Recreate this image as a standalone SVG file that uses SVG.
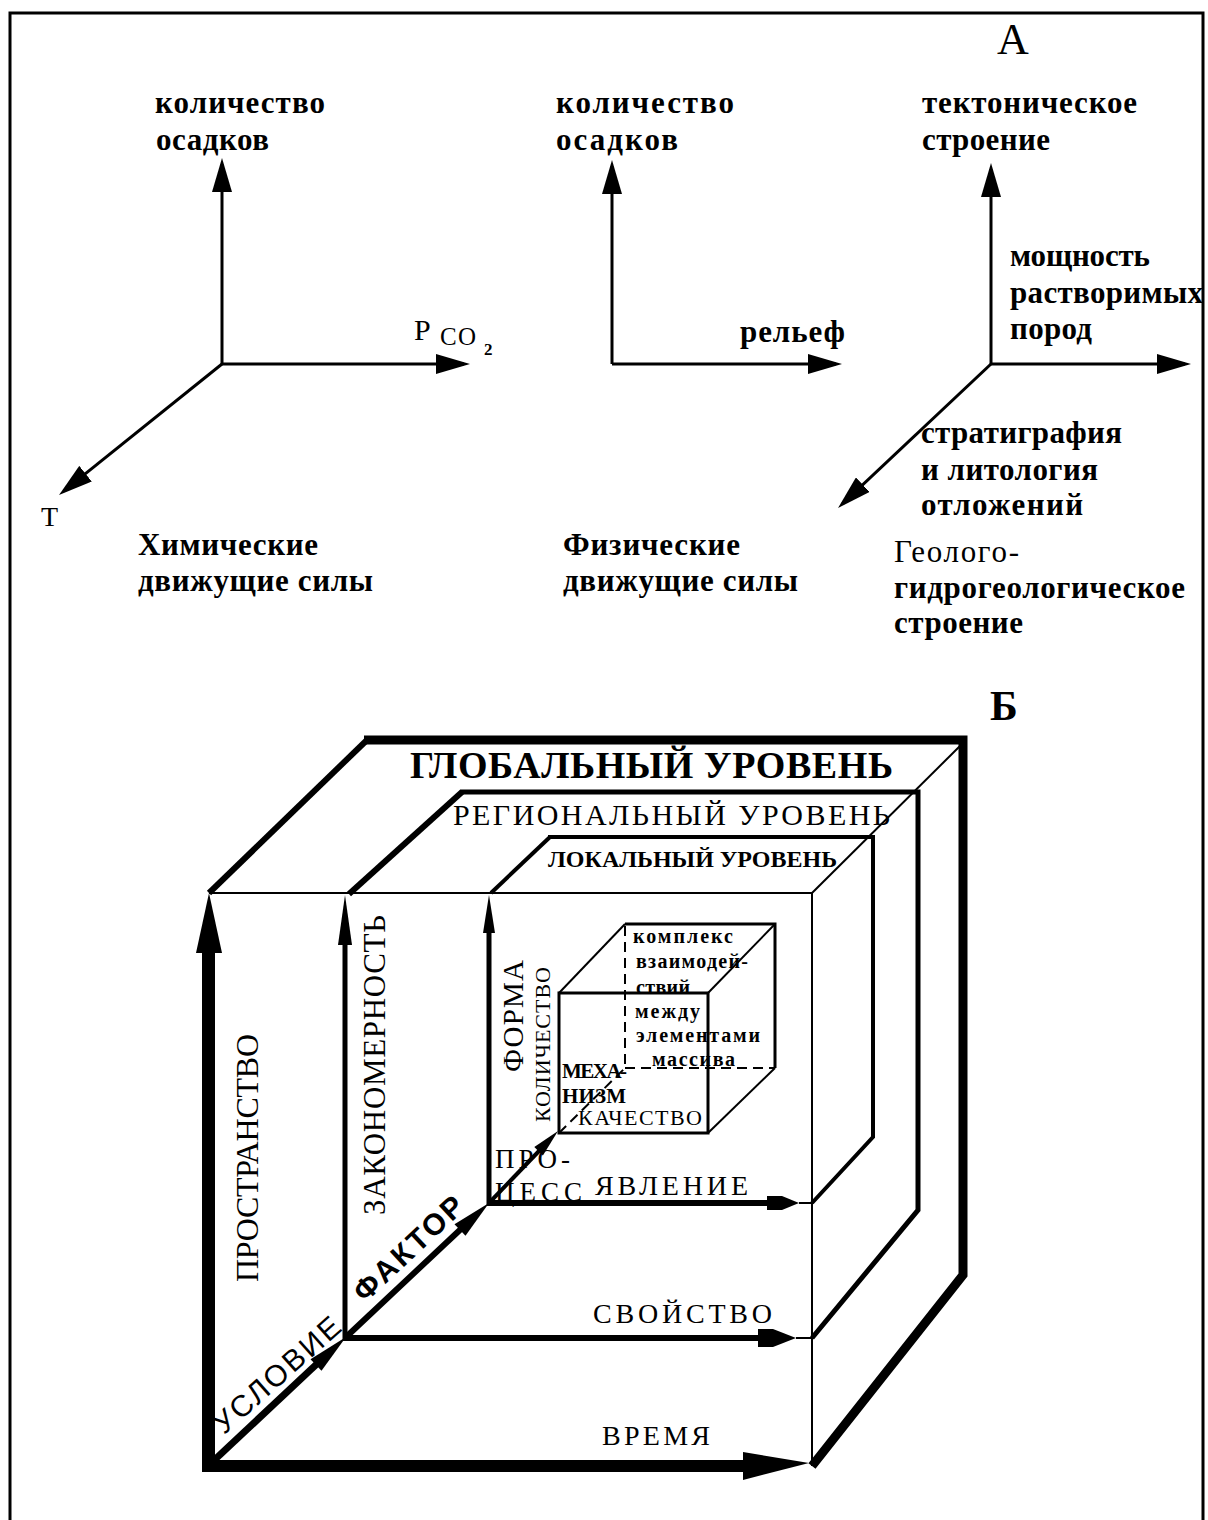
<svg xmlns="http://www.w3.org/2000/svg" width="1208" height="1520" viewBox="0 0 1208 1520">
<defs>
<style>
text{fill:#000}
.sr{font-family:"Liberation Serif","Times New Roman",serif}
.sn{font-family:"Liberation Sans",Arial,sans-serif}
.b{font-weight:bold}
.la{font-family:"Liberation Serif","Times New Roman",serif;font-weight:bold;font-size:31px}
.sm{font-family:"Liberation Serif","Times New Roman",serif;font-weight:bold;font-size:20px}
.ax{stroke:#000;stroke-width:3;fill:none}
.ln{stroke:#000;fill:none}
.th{stroke:#000;stroke-width:2;fill:none}
.ds{stroke:#000;stroke-width:2;fill:none;stroke-dasharray:10 6}
.ah{fill:#000;stroke:none}
</style>
<marker id="arr" viewBox="0 0 34 20" refX="28" refY="10" markerWidth="34" markerHeight="20" markerUnits="userSpaceOnUse" orient="auto"><path d="M0,0 L34,10 L0,20 Z" fill="#000"/></marker>
</defs>
<rect x="0" y="0" width="1208" height="1520" fill="#fff"/>
<path id="frame" d="M10,1520 L10,13 L1203,13 L1203,1520" fill="none" stroke="#000" stroke-width="3"/>

<!-- Panel A labels -->
<g id="title-A"><text class="sr" x="1013" y="54" font-size="44" text-anchor="middle">А</text></g>

<g id="chem-labels">
<text class="la" x="155" y="113" textLength="170">количество</text>
<text class="la" x="156" y="150" textLength="113">осадков</text>
<text class="sr" x="414" y="340" font-size="30">P</text>
<text class="sr" x="440" y="345" font-size="25" textLength="36">CO</text>
<text class="sr b" x="484" y="355" font-size="17">2</text>
<text class="sr" x="41" y="526" font-size="28">T</text>
<text class="la" x="138" y="555" textLength="180">Химические</text>
<text class="la" x="138" y="591" textLength="235">движущие силы</text>
</g>

<g id="phys-labels">
<text class="la" x="556" y="113" textLength="178">количество</text>
<text class="la" x="556" y="150" textLength="122">осадков</text>
<text class="la" x="740" y="342" textLength="105">рельеф</text>
<text class="la" x="563" y="555" textLength="177">Физические</text>
<text class="la" x="563" y="591" textLength="235">движущие силы</text>
</g>

<g id="geo-labels">
<text class="la" x="922" y="113" textLength="215">тектоническое</text>
<text class="la" x="922" y="150" textLength="128">строение</text>
<text class="la" x="1010" y="266" textLength="140">мощность</text>
<text class="la" x="1010" y="303" textLength="193">растворимых</text>
<text class="la" x="1010" y="339" textLength="82">пород</text>
<text class="la" x="921" y="443" textLength="201">стратиграфия</text>
<text class="la" x="921" y="480" textLength="177">и литология</text>
<text class="la" x="921" y="515" textLength="162">отложений</text>
<text class="sr" x="894" y="562" font-size="31" textLength="125">Геолого-</text>
<text class="la" x="894" y="598" textLength="291">гидрогеологическое</text>
<text class="la" x="894" y="633" textLength="129">строение</text>
</g>

<!-- Panel B labels -->
<g id="title-B"><text class="sr b" x="1004" y="720" font-size="42" text-anchor="middle">Б</text></g>

<g id="level-labels">
<text class="sr b" x="410" y="778" font-size="38" textLength="483">ГЛОБАЛЬНЫЙ УРОВЕНЬ</text>
<text class="sr" x="453" y="825" font-size="30" textLength="437">РЕГИОНАЛЬНЫЙ УРОВЕНЬ</text>
<text class="sr b" x="548" y="867" font-size="24" textLength="289">ЛОКАЛЬНЫЙ УРОВЕНЬ</text>
</g>

<g id="axis-labels">
<text class="sr" transform="translate(258,1282) rotate(-90)" font-size="32" textLength="248">ПРОСТРАНСТВО</text>
<text class="sr" transform="translate(385,1215) rotate(-90)" font-size="31" textLength="300">ЗАКОНОМЕРНОСТЬ</text>
<text class="sr" transform="translate(523,1072) rotate(-90)" font-size="29" textLength="112">ФОРМА</text>
<text class="sr" transform="translate(550,1122) rotate(-90)" font-size="22" textLength="155">КОЛИЧЕСТВО</text>
<text class="sn b" transform="translate(408,1248) rotate(-43.2)" x="0" y="11" font-size="30" text-anchor="middle" textLength="139">ФАКТОР</text>
<text class="sn" transform="translate(277,1375) rotate(-41.5)" x="0" y="10" font-size="30" text-anchor="middle" textLength="159">УСЛОВИЕ</text>
<text class="sr" x="495" y="1168" font-size="27" textLength="75">ПРО-</text>
<text class="sr" x="495" y="1201" font-size="27" textLength="87">ЦЕСС</text>
<text class="sr" x="595" y="1195" font-size="28" textLength="153">ЯВЛЕНИЕ</text>
<text class="sr" x="593" y="1323" font-size="28" textLength="179">СВОЙСТВО</text>
<text class="sr" x="602" y="1445" font-size="28" textLength="108">ВРЕМЯ</text>
<text class="sr b" x="562" y="1078" font-size="21" textLength="65">МЕХА-</text>
<text class="sr b" x="562" y="1103" font-size="21" textLength="64">НИЗМ</text>
<text class="sr" x="578" y="1125" font-size="22" textLength="124">КАЧЕСТВО</text>
</g>

<g id="inner-labels">
<text class="sm" x="633" y="943" textLength="100">комплекс</text>
<text class="sm" x="636" y="968" textLength="112">взаимодей-</text>
<text class="sm" x="636" y="994" textLength="54">ствий</text>
<text class="sm" x="635" y="1018" textLength="65">между</text>
<text class="sm" x="636" y="1042" textLength="124">элементами</text>
<text class="sm" x="652" y="1066" textLength="83">массива</text>
</g>

<!-- Cubes -->
<g id="cube-global">
<line class="ln" x1="209" y1="893" x2="367" y2="740" stroke-width="6"/>
<polyline class="ln" points="364,740 963,740 963,1275 812,1466" stroke-width="9"/>
<line class="th" x1="209" y1="893" x2="812" y2="893"/>
<line class="th" x1="812" y1="893" x2="812" y2="1466"/>
<line class="th" x1="962" y1="744" x2="812" y2="893"/>
</g>
<g id="cube-regional">
<line class="ln" x1="349" y1="894" x2="462" y2="792" stroke-width="6"/>
<polyline class="ln" points="460,792 918,792 918,1210 812,1338" stroke-width="5"/>
</g>
<g id="cube-local">
<line class="ln" x1="491" y1="893" x2="550" y2="837" stroke-width="4"/>
<polyline class="ln" points="548,837 873,837 873,1137 812,1203" stroke-width="4"/>
</g>
<g id="cube-inner">
<rect class="ln" x="559" y="993" width="149" height="140" stroke-width="3"/>
<polyline class="ln" points="625,924 775,924 775,1068" stroke-width="3"/>
<line class="th" x1="559" y1="993" x2="625" y2="924"/>
<line class="th" x1="708" y1="993" x2="775" y2="924"/>
<line class="th" x1="708" y1="1133" x2="775" y2="1068"/>
<line class="ds" x1="625" y1="926" x2="625" y2="1068"/>
<line class="ds" x1="625" y1="1068" x2="775" y2="1068"/>
<line class="ds" x1="559" y1="1133" x2="625" y2="1068"/>
</g>

<!-- Connectors -->
<g id="connectors">
<line class="ax" x1="222" y1="364" x2="222" y2="164" marker-end="url(#arr)"/>
<line class="ax" x1="222" y1="364" x2="464" y2="364" marker-end="url(#arr)"/>
<line class="ax" x1="222" y1="364" x2="63.7" y2="491.2" marker-end="url(#arr)"/>
<line class="ax" x1="612" y1="364" x2="612" y2="166" marker-end="url(#arr)"/>
<line class="ax" x1="612" y1="364" x2="836" y2="364" marker-end="url(#arr)"/>
<line class="ax" x1="991" y1="364" x2="991" y2="169" marker-end="url(#arr)"/>
<line class="ax" x1="991" y1="364" x2="1185" y2="364" marker-end="url(#arr)"/>
<line class="ax" x1="991" y1="364" x2="842.4" y2="503.9" marker-end="url(#arr)"/>
<rect class="ah" x="202" y="950" width="13" height="522"/>
<polygon class="ah" points="209,893 222,953 196,953"/>
<rect class="ah" x="202" y="1460" width="543" height="12"/>
<polygon class="ah" points="743,1452 809,1463 743,1480"/>
<line class="ln" x1="345" y1="943" x2="345" y2="1341" stroke-width="5"/>
<polygon class="ah" points="345,895 352,945 338,945"/>
<line class="ln" x1="489" y1="931" x2="489" y2="1206" stroke-width="5"/>
<polygon class="ah" points="489,895 495,933 483,933"/>
<line class="ln" x1="343" y1="1338" x2="760" y2="1338" stroke-width="6"/>
<polygon class="ah" points="758,1329 773,1329 796,1338 773,1347 758,1347"/>
<line class="th" x1="796" y1="1338" x2="812" y2="1338"/>
<line class="ln" x1="487" y1="1203" x2="768" y2="1203" stroke-width="6"/>
<polygon class="ah" points="767,1196 782,1196 799,1203 782,1210 767,1210"/>
<line class="th" x1="799" y1="1203" x2="812" y2="1203"/>
<line class="ln" x1="208" y1="1466" x2="320" y2="1361" stroke-width="7"/>
<polygon class="ah" points="346,1337 321.5,1370.8 310.5,1359.2"/>
<line class="ln" x1="345" y1="1338" x2="462" y2="1228" stroke-width="6"/>
<polygon class="ah" points="489,1203 465.5,1235.8 454.5,1224.2"/>
<line class="ln" x1="489" y1="1203" x2="540" y2="1150" stroke-width="4"/>
<polygon class="ah" points="558,1131 542.9,1155.4 534.3,1147"/>
</g>
</svg>
